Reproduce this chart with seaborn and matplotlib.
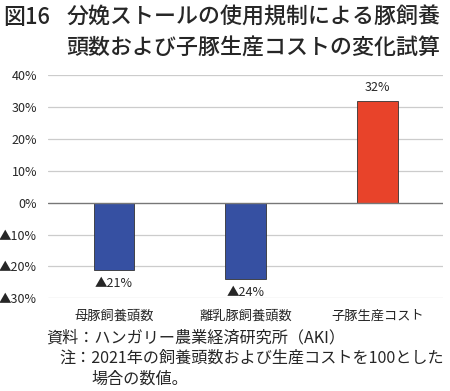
import matplotlib
matplotlib.use("Agg")
import matplotlib.pyplot as plt
import seaborn as sns
import pandas as pd

# data
categories = ["母豚飼養頭数", "離乳豚飼養頭数", "子豚生産コスト"]
changes = [-21, -24, 32]
bar_colors = ["#3650A2", "#3650A2", "#E8432A"]
yticks = [40, 30, 20, 10, 0, -10, -20, -30]

sns.set_style("white")
plt.rcParams['font.family'] = ['Noto Sans CJK JP', 'DejaVu Sans']

df = pd.DataFrame({"cat": categories, "val": changes})

fig = plt.figure(figsize=(4.5, 3.91), dpi=100)
ax = fig.add_axes([0.107, 0.237, 0.878, 0.57])

sns.barplot(data=df, x="cat", y="val", hue="cat", palette=bar_colors,
            saturation=1, width=0.31, edgecolor="#333333", linewidth=0.6,
            legend=False, ax=ax, zorder=3)

ax.set_ylim(-30, 40)
ax.set_yticks(yticks)

def fmt(v):
    return f"{v}%" if v >= 0 else f"▲{-v}%"

ax.set_yticklabels([fmt(v) for v in yticks], fontsize=9)
for v in yticks:
    if v == 0:
        continue
    ax.axhline(v, color="#cccccc", lw=0.9, zorder=1)
ax.axhline(0, color="#777777", lw=1.0, zorder=4)
ax.tick_params(axis="y", length=0, pad=8)
ax.tick_params(axis="x", length=0, pad=8, labelsize=9.5)
ax.set_xlabel("")
ax.set_ylabel("")
for s in ax.spines.values():
    s.set_visible(False)

for i, v in enumerate(changes):
    if v >= 0:
        ax.text(i, v + 2.2, fmt(v), ha="center", va="bottom", fontsize=9)
    else:
        ax.text(i, v - 2.2, fmt(v), ha="center", va="top", fontsize=9)

fig.text(0.008, 0.955, "図16", fontsize=15.8, va="center", fontweight="medium")
fig.text(0.148, 0.955, "分娩ストールの使用規制による豚飼養", fontsize=15.8,
         va="center", fontweight="medium")
fig.text(0.148, 0.878, "頭数および子豚生産コストの変化試算", fontsize=15.8,
         va="center", fontweight="medium")

fig.text(0.102, 0.135, "資料：ハンガリー農業経済研究所（AKI）", fontsize=11.6, va="center")
fig.text(0.133, 0.083, "注：2021年の飼養頭数および生産コストを100とした", fontsize=11.6, va="center")
fig.text(0.203, 0.031, "場合の数値。", fontsize=11.6, va="center")

fig.savefig("out.png", dpi=100)
